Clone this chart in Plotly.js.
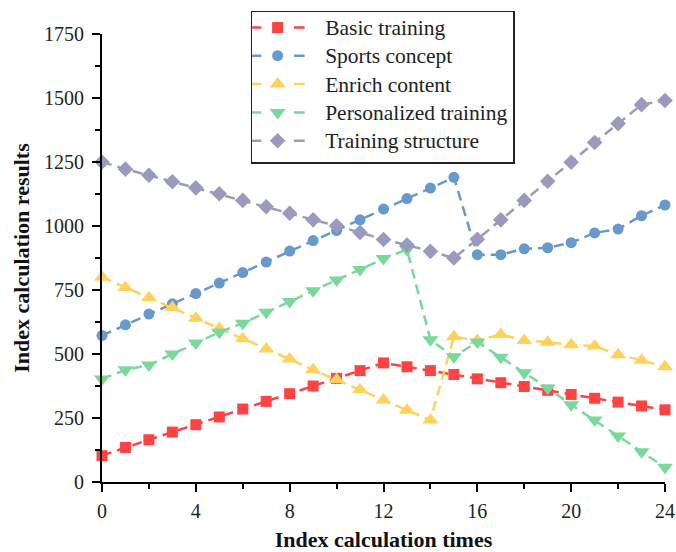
<!DOCTYPE html>
<html>
<head>
<meta charset="utf-8">
<script src="https://cdn.plot.ly/plotly-3.0.1.min.js"></script>
<style>
  html, body { margin: 0; padding: 0; background: #ffffff; }
  #chart { width: 676px; height: 552px; }
</style>
</head>
<body>
<div id="chart"></div>
<script>
// Index calculation times (x axis)
const times = [0, 1, 2, 3, 4, 5, 6, 7, 8, 9, 10, 11, 12, 13, 14, 15, 16, 17, 18, 19, 20, 21, 22, 23, 24];

// Index calculation results per series
const basicTraining = [103, 135, 165, 195, 224, 254, 285, 315, 345, 375, 405, 435, 465, 450, 435, 420, 403, 388, 373, 358, 342, 327, 312, 297, 282];
const sportsConcept = [572, 614, 656, 696, 736, 777, 818, 859, 902, 943, 982, 1024, 1066, 1107, 1148, 1190, 888, 888, 911, 915, 935, 973, 988, 1040, 1082];
const enrichContent = [800, 760, 720, 682, 640, 600, 560, 520, 480, 438, 400, 360, 320, 280, 242, 567, 553, 576, 553, 546, 536, 531, 497, 476, 450];
const personalizedTraining = [402, 438, 457, 500, 543, 585, 620, 663, 705, 747, 789, 830, 873, 908, 556, 489, 547, 487, 427, 367, 302, 242, 180, 118, 58];
const trainingStructure = [1250, 1222, 1198, 1173, 1149, 1126, 1100, 1075, 1050, 1024, 1001, 975, 947, 926, 901, 875, 948, 1024, 1100, 1175, 1249, 1326, 1400, 1474, 1490];

const seriesNames = ['Basic training', 'Sports concept', 'Enrich content', 'Personalized training', 'Training structure'];
const seriesValues = [basicTraining, sportsConcept, enrichContent, personalizedTraining, trainingStructure];
const seriesColors = ['#ff4343', '#6699cc', '#ffd25c', '#7ad89c', '#9a9abf'];
const seriesSymbols = ['square', 'circle', 'triangle-up', 'triangle-down', 'diamond'];
const seriesSizes = [11, 11, 14, 14, 12];

const FONT = '"Liberation Serif", "DejaVu Serif", serif';

const traces = seriesNames.map((name, i) => ({
  type: 'scatter',
  mode: 'lines+markers',
  name: name,
  x: times,
  y: seriesValues[i],
  cliponaxis: false,
  line: { color: seriesColors[i], width: 2.5, dash: '10px,6px' },
  marker: { symbol: seriesSymbols[i], size: seriesSizes[i], color: seriesColors[i] }
}));

const axisCommon = {
  showgrid: false,
  zeroline: false,
  showline: true,
  linecolor: '#000000',
  linewidth: 2,
  ticks: 'outside',
  ticklen: 8,
  tickwidth: 2,
  tickcolor: '#000000',
  tickfont: { family: FONT, size: 20, color: '#222222' }
};

const layout = {
  width: 676,
  height: 552,
  paper_bgcolor: '#ffffff',
  plot_bgcolor: '#ffffff',
  margin: { l: 102, r: 11, t: 30, b: 70 },
  showlegend: true,
  xaxis: Object.assign({}, axisCommon, {
    range: [0, 24],
    tickmode: 'array',
    tickvals: [0, 4, 8, 12, 16, 20, 24],
    ticktext: ['0', '4', '8', '12', '16', '20', '24'],
    ticklabelstandoff: 2,
    minor: { dtick: 2, tick0: 0, ticks: 'outside', ticklen: 5, tickwidth: 2, tickcolor: '#000000' },
    title: { text: 'Index calculation times', font: { family: FONT, size: 22, color: '#111111', weight: 'bold' }, standoff: 13 }
  }),
  yaxis: Object.assign({}, axisCommon, {
    range: [0, 1750],
    tickmode: 'array',
    tickvals: [0, 250, 500, 750, 1000, 1250, 1500, 1750],
    ticklabelstandoff: 4,
    minor: { dtick: 125, tick0: 0, ticks: 'outside', ticklen: 5, tickwidth: 2, tickcolor: '#000000' },
    title: { text: 'Index calculation results', font: { family: FONT, size: 22, color: '#111111', weight: 'bold' }, standoff: 8 }
  }),
  legend: {
    x: 0.264,
    y: 1.052,
    xanchor: 'left',
    yanchor: 'top',
    bgcolor: '#ffffff',
    bordercolor: '#222222',
    borderwidth: 1.5,
    itemwidth: 63,
    tracegroupgap: 0,
    font: { family: FONT, size: 19.5, color: '#222222' }
  }
};

const LEGEND_TEXT_SIZE = 21.5;

const gd = document.getElementById('chart');
Plotly.newPlot(gd, traces, layout, { displayModeBar: false, staticPlot: true }).then(() => {
  // legend samples: a longer dashed line with one dash on each side of the marker
  const markerX = 25.5;
  gd.querySelectorAll('.legend .traces').forEach(tr => {
    tr.querySelectorAll('.legendlines path').forEach(p => {
      p.setAttribute('d', 'M' + (markerX - 27) + ',0h54');
      p.style.strokeDasharray = '10.7px,32.6px';
    });
    tr.querySelectorAll('.legendpoints path').forEach(p => p.setAttribute('transform', 'translate(' + markerX + ',0)'));
  });

  // slightly larger legend labels on the same row spacing; widen the box to fit
  const texts = Array.from(gd.querySelectorAll('.legend .legendtext'));
  const oldMax = Math.max(...texts.map(t => t.getComputedTextLength()));
  texts.forEach(t => { t.style.fontSize = LEGEND_TEXT_SIZE + 'px'; });
  const newMax = Math.max(...texts.map(t => t.getComputedTextLength()));
  const extra = newMax - oldMax;
  const bg = gd.querySelector('.legend rect.bg');
  if (bg) {
    bg.setAttribute('width', parseFloat(bg.getAttribute('width')) + extra);
    bg.setAttribute('height', parseFloat(bg.getAttribute('height')) - 2);
  }
  gd.querySelectorAll('clipPath[id^="legend"] rect').forEach(r => {
    r.setAttribute('width', parseFloat(r.getAttribute('width')) + extra);
  });

  // tighten the top padding of the legend rows
  const groups = gd.querySelector('.legend .groups');
  if (groups) groups.setAttribute('transform', 'translate(0,-4)');
});
</script>
</body>
</html>
